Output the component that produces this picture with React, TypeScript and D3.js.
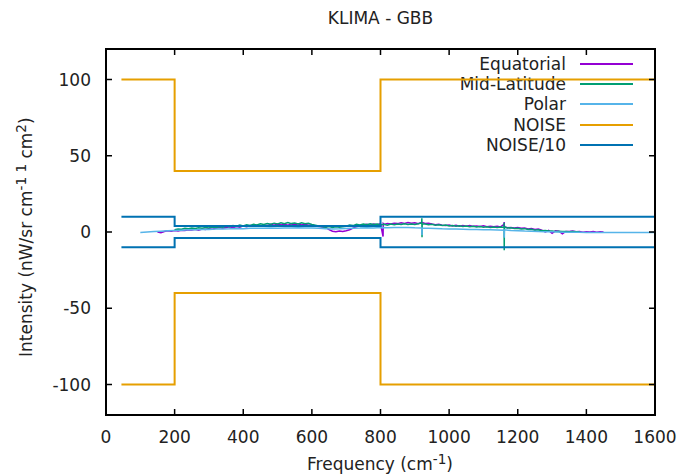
import React from 'react';
import * as d3 from 'd3';

const W = 678;
const H = 474;
const FONT = "'DejaVu Sans', sans-serif";

const title = 'KLIMA - GBB';
const xTicks = [0, 200, 400, 600, 800, 1000, 1200, 1400, 1600];
const yTicks = [-100, -50, 0, 50, 100];
const seriesNames = ['Equatorial', 'Mid-Latitude', 'Polar', 'NOISE', 'NOISE/10'];
const seriesColors = ['#9400d3', '#009e73', '#56b4e9', '#e69f00', '#0072b2'];

// Equatorial: start 150 cm-1, step 10
const eqStart = 150;
const eqStep = 10;
const eqValues = [
  0, -0.5, 0.3, 0.8, 0.5, 1.0, 0.7, 1.2, 1.0, 1.5,
  1.3, 1.8, 1.2, 2.0, 1.6, 2.2, 1.8, 2.4, 2.9, 2.5,
  3.0, 3.4, 2.8, 3.6, 3.2, 4.0, 3.5, 4.2, 3.8, 4.4,
  4.0, 4.6, 4.2, 5.0, 4.4, 5.2, 4.6, 5.0, 4.5, 5.3,
  4.8, 5.4, 4.6, 5.0, 4.4, 4.8, 4.0, 3.6, 3.2, 3.0,
  1.5, 0.5, 0.2, 0.6, 0.3, 0.8, 1.5, 2.5, 3.5, 4.2,
  4.6, 5.0, 4.5, 5.3, 4.8, 5.5, 5.0, 5.6, 5.2, 5.8,
  5.5, 6.0, 5.6, 6.2, 5.7, 6.0, 5.5, 6.3, 5.6, 5.8,
  5.2, 4.8, 5.0, 4.5, 4.2, 4.6, 4.0, 4.4, 3.8, 4.2,
  3.8, 4.3, 3.7, 4.0, 3.6, 4.1, 3.5, 3.8, 3.4, 3.7,
  3.3, 5.0, 2.8, 3.0, 2.6, 2.9, 2.4, 2.6, 2.0, 2.3,
  1.6, 1.9, 1.2, 0.0, 1.0, -0.8, 0.8, 0.5, -1.2, 0.4,
  0.3, 0.6, 0.1, 0.4, -0.2, 0.2, 0.0, 0.3, -0.1, 0.1, 0.0,
];
const eqSpikes: [number, number][] = [[807.5, -3], [808, 5.5], [1160.5, 6.5], [1161, 3.5]];

// Mid-Latitude: start 200 cm-1, step 10
const mlStart = 200;
const mlStep = 10;
const mlValues = [
  1.5, 2.0, 1.8, 2.5, 2.2, 2.6, 2.3, 2.8, 2.5, 2.9,
  2.7, 3.2, 2.9, 3.5, 3.1, 3.8, 3.4, 4.2, 3.8, 4.5,
  4.0, 4.8, 4.3, 5.0, 4.6, 5.4, 4.9, 5.6, 5.1, 5.8,
  5.3, 6.0, 5.4, 6.2, 5.5, 5.9, 5.2, 6.0, 5.4, 5.7,
  5.0, 4.5, 4.0, 3.5, 3.2, 3.6, 3.0, 3.4, 3.1, 3.5,
  3.8, 4.5, 4.2, 5.0, 4.6, 5.2, 4.8, 5.4, 5.0, 5.3,
  4.6, 5.0, 4.5, 5.2, 4.8, 5.3, 4.9, 5.4, 5.0, 5.2,
  5.0, 5.4, 6.0, 5.2, 4.8, 5.0, 4.5, 4.8, 4.3, 4.6,
  4.0, 4.3, 3.8, 4.1, 3.6, 3.9, 3.4, 3.8, 3.3, 3.6,
  3.2, 3.5, 3.0, 3.3, 2.9, 3.2, 3.0, 2.6, 2.8, 2.3,
  2.5, 2.0, 2.2, 1.6, 1.8, 1.2, 1.4, 0.9, 1.0, 0.6,
  0.7, 0.4, 0.5, 0.3, 0.4, 0.2, 0.3, 0.1, 0.2,
];
const mlSpikes: [number, number][] = [
  [920.5, 9], [921, -3.5], [921.5, 5.2],
  [1160.2, 6], [1160.6, -12], [1161, 3.2],
];

// Polar: start 100 cm-1, step 20
const poStart = 100;
const poStep = 20;
const poValues = [
  -0.3, 0.0, 0.3, 0.5, 0.8, 1.0, 1.2, 1.4, 1.5, 1.6,
  1.7, 1.9, 2.0, 2.1, 2.3, 2.2, 2.4, 2.5, 2.4, 2.6,
  2.5, 2.7, 2.6, 2.8, 2.7, 2.6, 2.4, 2.2, 2.0, 2.1,
  2.3, 2.5, 2.6, 2.8, 2.7, 2.9, 2.8, 3.0, 2.9, 3.0,
  2.8, 2.7, 2.5, 2.3, 2.1, 2.0, 1.9, 1.8, 1.7, 1.6,
  1.5, 1.4, 1.3, 1.2, 1.0, 0.8, 0.6, 0.5, 0.3, 0.2,
  0.1, 0.0, -0.1, -0.2, -0.2, -0.3, -0.3, -0.3, -0.3, -0.3,
  -0.3, -0.3, -0.3, -0.3, -0.3, -0.3,
];
const poSpikes: [number, number][] = [[921, -2], [921.5, 2.6], [1160.5, -3.7], [1161, 1.4]];

// Noise step levels (upper bound; lower bound is the negative)
const noiseFreq = [45, 200, 800, 1600];
const noiseValues = [100, 40, 100, 100];
const noise10Values = [10, 4, 10, 10];

const margin = { left: 106, right: W - 655, top: 49, bottom: H - 415 };

type Pt = [number, number];

function buildSeries(start: number, step: number, values: number[], spikes: Pt[]): Pt[] {
  const pts: Pt[] = values.map((v, i) => [start + i * step, v]);
  return pts.concat(spikes).sort((a, b) => a[0] - b[0]);
}

export default function App() {
  const x = d3.scaleLinear().domain([0, 1600]).range([margin.left, W - margin.right]);
  const y = d3.scaleLinear().domain([-120, 120]).range([H - margin.bottom, margin.top]);

  const line = d3.line<Pt>().x(d => x(d[0])).y(d => y(d[1]));
  const stepLine = d3.line<Pt>().x(d => x(d[0])).y(d => y(d[1])).curve(d3.curveStepAfter);

  const eq = buildSeries(eqStart, eqStep, eqValues, eqSpikes);
  const ml = buildSeries(mlStart, mlStep, mlValues, mlSpikes);
  const po = buildSeries(poStart, poStep, poValues, poSpikes);
  const nUp: Pt[] = noiseFreq.map((f, i) => [f, noiseValues[i]]);
  const nDn: Pt[] = noiseFreq.map((f, i) => [f, -noiseValues[i]]);
  const n10Up: Pt[] = noiseFreq.map((f, i) => [f, noise10Values[i]]);
  const n10Dn: Pt[] = noiseFreq.map((f, i) => [f, -noise10Values[i]]);

  const x0 = x(0), x1 = x(1600), yTop = y(120), yBot = y(-120);
  const tickLen = 6;
  const fs = 17;
  const legendY = [64, 84, 104, 125, 145];

  return (
    <svg width={W} height={H} style={{ position: 'fixed', left: 0, top: 0, background: '#fff' }}
      fontFamily={FONT}>
      <rect x={0} y={0} width={W} height={H} fill="#fff" />
      <text x={(x0 + x1) / 2} y={24} textAnchor="middle" fontSize={fs} fill="#222">{title}</text>

      {/* legend */}
      {seriesNames.map((name, i) => (
        <g key={name}>
          <text x={566} y={legendY[i] + 6} textAnchor="end" fontSize={fs} fill="#222">{name}</text>
          <line x1={580} x2={633} y1={legendY[i]} y2={legendY[i]} stroke={seriesColors[i]} strokeWidth={2} />
        </g>
      ))}

      <g clipPath="url(#clip)">
        <path d={line(eq) || ''} fill="none" stroke={seriesColors[0]} strokeWidth={1.5} />
        <path d={line(ml) || ''} fill="none" stroke={seriesColors[1]} strokeWidth={1.5} />
        <path d={line(po) || ''} fill="none" stroke={seriesColors[2]} strokeWidth={1.5} />
        <path d={stepLine(nUp) || ''} fill="none" stroke={seriesColors[3]} strokeWidth={2} />
        <path d={stepLine(nDn) || ''} fill="none" stroke={seriesColors[3]} strokeWidth={2} />
        <path d={stepLine(n10Up) || ''} fill="none" stroke={seriesColors[4]} strokeWidth={2} />
        <path d={stepLine(n10Dn) || ''} fill="none" stroke={seriesColors[4]} strokeWidth={2} />
      </g>
      <defs>
        <clipPath id="clip">
          <rect x={x0} y={yTop} width={x1 - x0} height={yBot - yTop} />
        </clipPath>
      </defs>

      {/* ticks */}
      {xTicks.map(t => (
        <g key={'x' + t}>
          <line x1={x(t)} x2={x(t)} y1={yBot} y2={yBot - tickLen} stroke="#000" strokeWidth={1.5} />
          <line x1={x(t)} x2={x(t)} y1={yTop} y2={yTop + tickLen} stroke="#000" strokeWidth={1.5} />
          <text x={x(t)} y={443} textAnchor="middle" fontSize={fs} fill="#222">{t}</text>
        </g>
      ))}
      {yTicks.map(t => (
        <g key={'y' + t}>
          <line x1={x0} x2={x0 + tickLen} y1={y(t)} y2={y(t)} stroke="#000" strokeWidth={1.5} />
          <line x1={x1} x2={x1 - tickLen} y1={y(t)} y2={y(t)} stroke="#000" strokeWidth={1.5} />
          <text x={91} y={y(t) + 6} textAnchor="end" fontSize={fs} fill="#222">{t}</text>
        </g>
      ))}
      <rect x={x0} y={yTop} width={x1 - x0} height={yBot - yTop} fill="none" stroke="#000" strokeWidth={2} />

      {/* axis labels */}
      <text x={380} y={470} textAnchor="middle" fontSize={fs} fill="#222">
        Frequency (cm<tspan dy={-6} fontSize={fs * 0.8}>-1</tspan><tspan dy={6}>)</tspan>
      </text>
      <text transform={`translate(32,357) rotate(-90)`} textAnchor="start" fontSize={fs} fill="#222">
        Intensity (nW/sr cm<tspan dy={-6} fontSize={fs * 0.8}>-1</tspan>
        <tspan dy={0} fontSize={fs * 0.8}> 1</tspan>
        <tspan dy={6}> cm</tspan><tspan dy={-6} fontSize={fs * 0.8}>2</tspan><tspan dy={6}>)</tspan>
      </text>
    </svg>
  );
}
